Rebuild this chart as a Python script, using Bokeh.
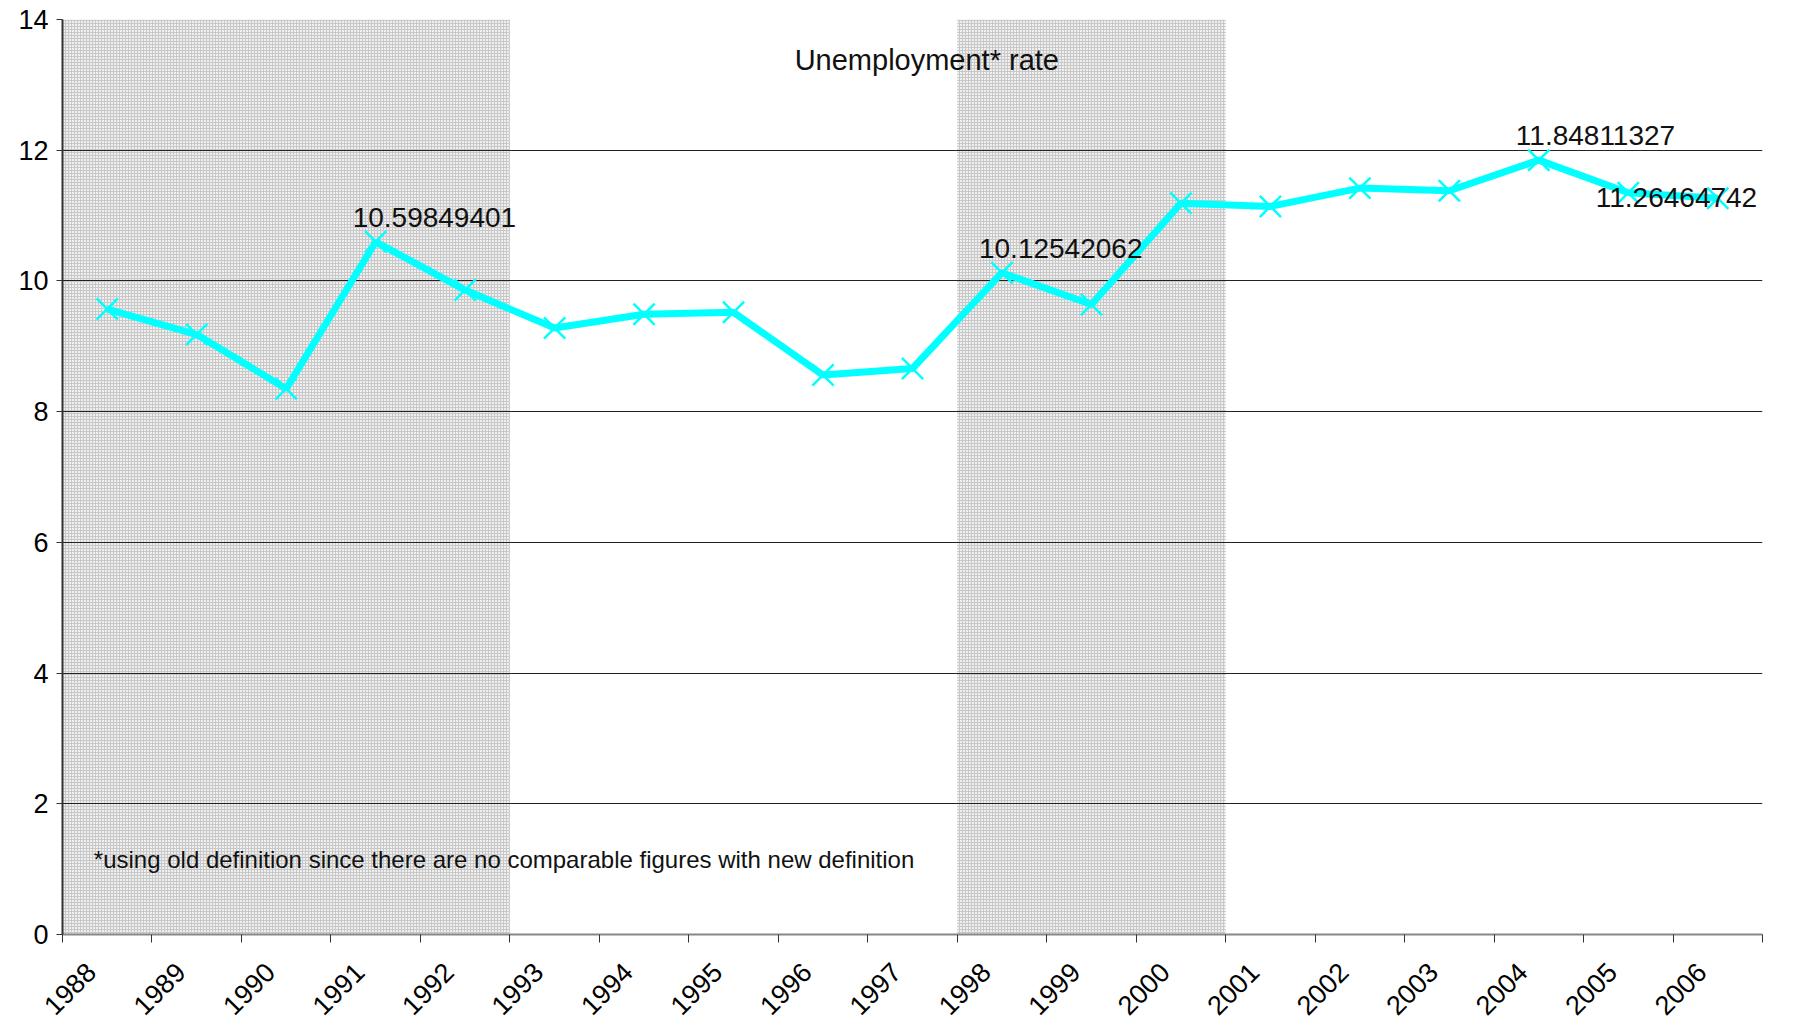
import math
from bokeh.plotting import figure
from bokeh.models import ColumnDataSource, FixedTicker, LabelSet, Label, Range1d
from bokeh.core.properties import value
from bokeh.embed import file_html
from bokeh.resources import INLINE

# ---- data ----
years = [str(y) for y in range(1988, 2007)]
rate = [9.57, 9.18, 8.35, 10.59849401, 9.86, 9.28, 9.49, 9.52, 8.56, 8.66,
        10.12542062, 9.64, 11.19, 11.14, 11.42, 11.38, 11.84811327, 11.35, 11.26464742]
labelled_years = ["1991", "1998", "2004"]
end_label_year = "2006"
shaded_start = ["1988", "1998"]
shaded_end = ["1992", "2000"]
y_ticks = [0, 2, 4, 6, 8, 10, 12, 14]
title_text = "Unemployment* rate"
note_text = "*using old definition since there are no comparable figures with new definition"

FONT = "Liberation Sans"
CYAN = "#00FFFF"

idx = {y: i for i, y in enumerate(years)}
xc = [i + 0.5 for i in range(len(years))]
# rotated category labels sit slightly left of the category centre (as in Excel)
label_pos = [x - 0.18 for x in xc]

p = figure(width=1787, height=1027, output_backend="svg", toolbar_location=None,
           x_range=Range1d(0, len(years)), y_range=Range1d(0, 14),
           min_border_left=62, min_border_right=25, min_border_top=19, min_border_bottom=93)
p.outline_line_color = None
p.background_fill_color = "white"
p.border_fill_color = "white"

# shaded periods
shade = ColumnDataSource(dict(left=[idx[s] for s in shaded_start],
                              right=[idx[e] + 1 for e in shaded_end]))
p.quad(left="left", right="right", bottom=0, top=14, source=shade,
       fill_color="#efefef", line_color=None,
       hatch_pattern="+", hatch_color="#c8c8c8", hatch_scale=3, hatch_weight=1,
       level="image")

# grid
p.xgrid.grid_line_color = None
p.ygrid.grid_line_color = "#222222"
p.ygrid.grid_line_width = 1
p.ygrid.ticker = FixedTicker(ticks=y_ticks)

# axes
p.yaxis.ticker = FixedTicker(ticks=y_ticks)
p.yaxis.axis_line_color = "#333333"
p.yaxis.axis_line_width = 2
p.yaxis.major_tick_line_color = "#333333"
p.yaxis.major_tick_out = 6
p.yaxis.major_tick_in = 0
p.yaxis.minor_tick_line_color = None
p.yaxis.major_label_text_font = FONT
p.yaxis.major_label_text_font_size = "27px"
p.yaxis.major_label_text_color = "black"
p.yaxis.major_label_standoff = 8

p.xaxis.ticker = FixedTicker(ticks=label_pos, minor_ticks=list(range(len(years) + 1)))
p.xaxis.major_label_overrides = {x: y for x, y in zip(label_pos, years)}
p.xaxis.axis_line_color = "#888888"
p.xaxis.axis_line_width = 2
p.xaxis.major_tick_line_color = None
p.xaxis.major_tick_out = 0
p.xaxis.minor_tick_line_color = "#333333"
p.xaxis.minor_tick_out = 8
p.xaxis.minor_tick_in = 0
p.xaxis.major_label_orientation = math.pi / 4
p.xaxis.major_label_text_font = FONT
p.xaxis.major_label_text_font_size = "27px"
p.xaxis.major_label_text_color = "black"
p.xaxis.major_label_standoff = 25

# series
src = ColumnDataSource(dict(x=xc, y=rate))
p.line("x", "y", source=src, line_color=CYAN, line_width=7)
p.scatter("x", "y", source=src, marker="x", size=30, line_color=CYAN, line_width=2.5)

# data labels
lab = ColumnDataSource(dict(
    x=[xc[idx[y]] for y in labelled_years],
    y=[rate[idx[y]] for y in labelled_years],
    t=["%.8f" % rate[idx[y]] for y in labelled_years]))
p.add_layout(LabelSet(x="x", y="y", text="t", source=lab, x_offset=-23, y_offset=15,
                      text_font=value(FONT), text_font_size=value("28px"),
                      text_color="#111111",
                      text_baseline="bottom", text_align="left"))
ei = idx[end_label_year]
p.add_layout(Label(x=xc[ei], y=rate[ei], text="%.8f" % rate[ei], x_offset=-122, y_offset=1,
                   text_font=FONT, text_font_size="28px", text_color="#111111",
                   text_baseline="middle", text_align="left"))

# title and note inside plot
p.add_layout(Label(x=len(years) / 2 + 0.16, y=13.38, text=title_text, text_font=FONT,
                   text_font_size="29px", text_color="#111111",
                   text_align="center", text_baseline="middle"))
p.add_layout(Label(x=0.35, y=1.15, text=note_text, text_font=FONT,
                   text_font_size="24px", text_color="#111111",
                   text_align="left", text_baseline="middle"))

open("out.html", "w").write(file_html(p, INLINE))
